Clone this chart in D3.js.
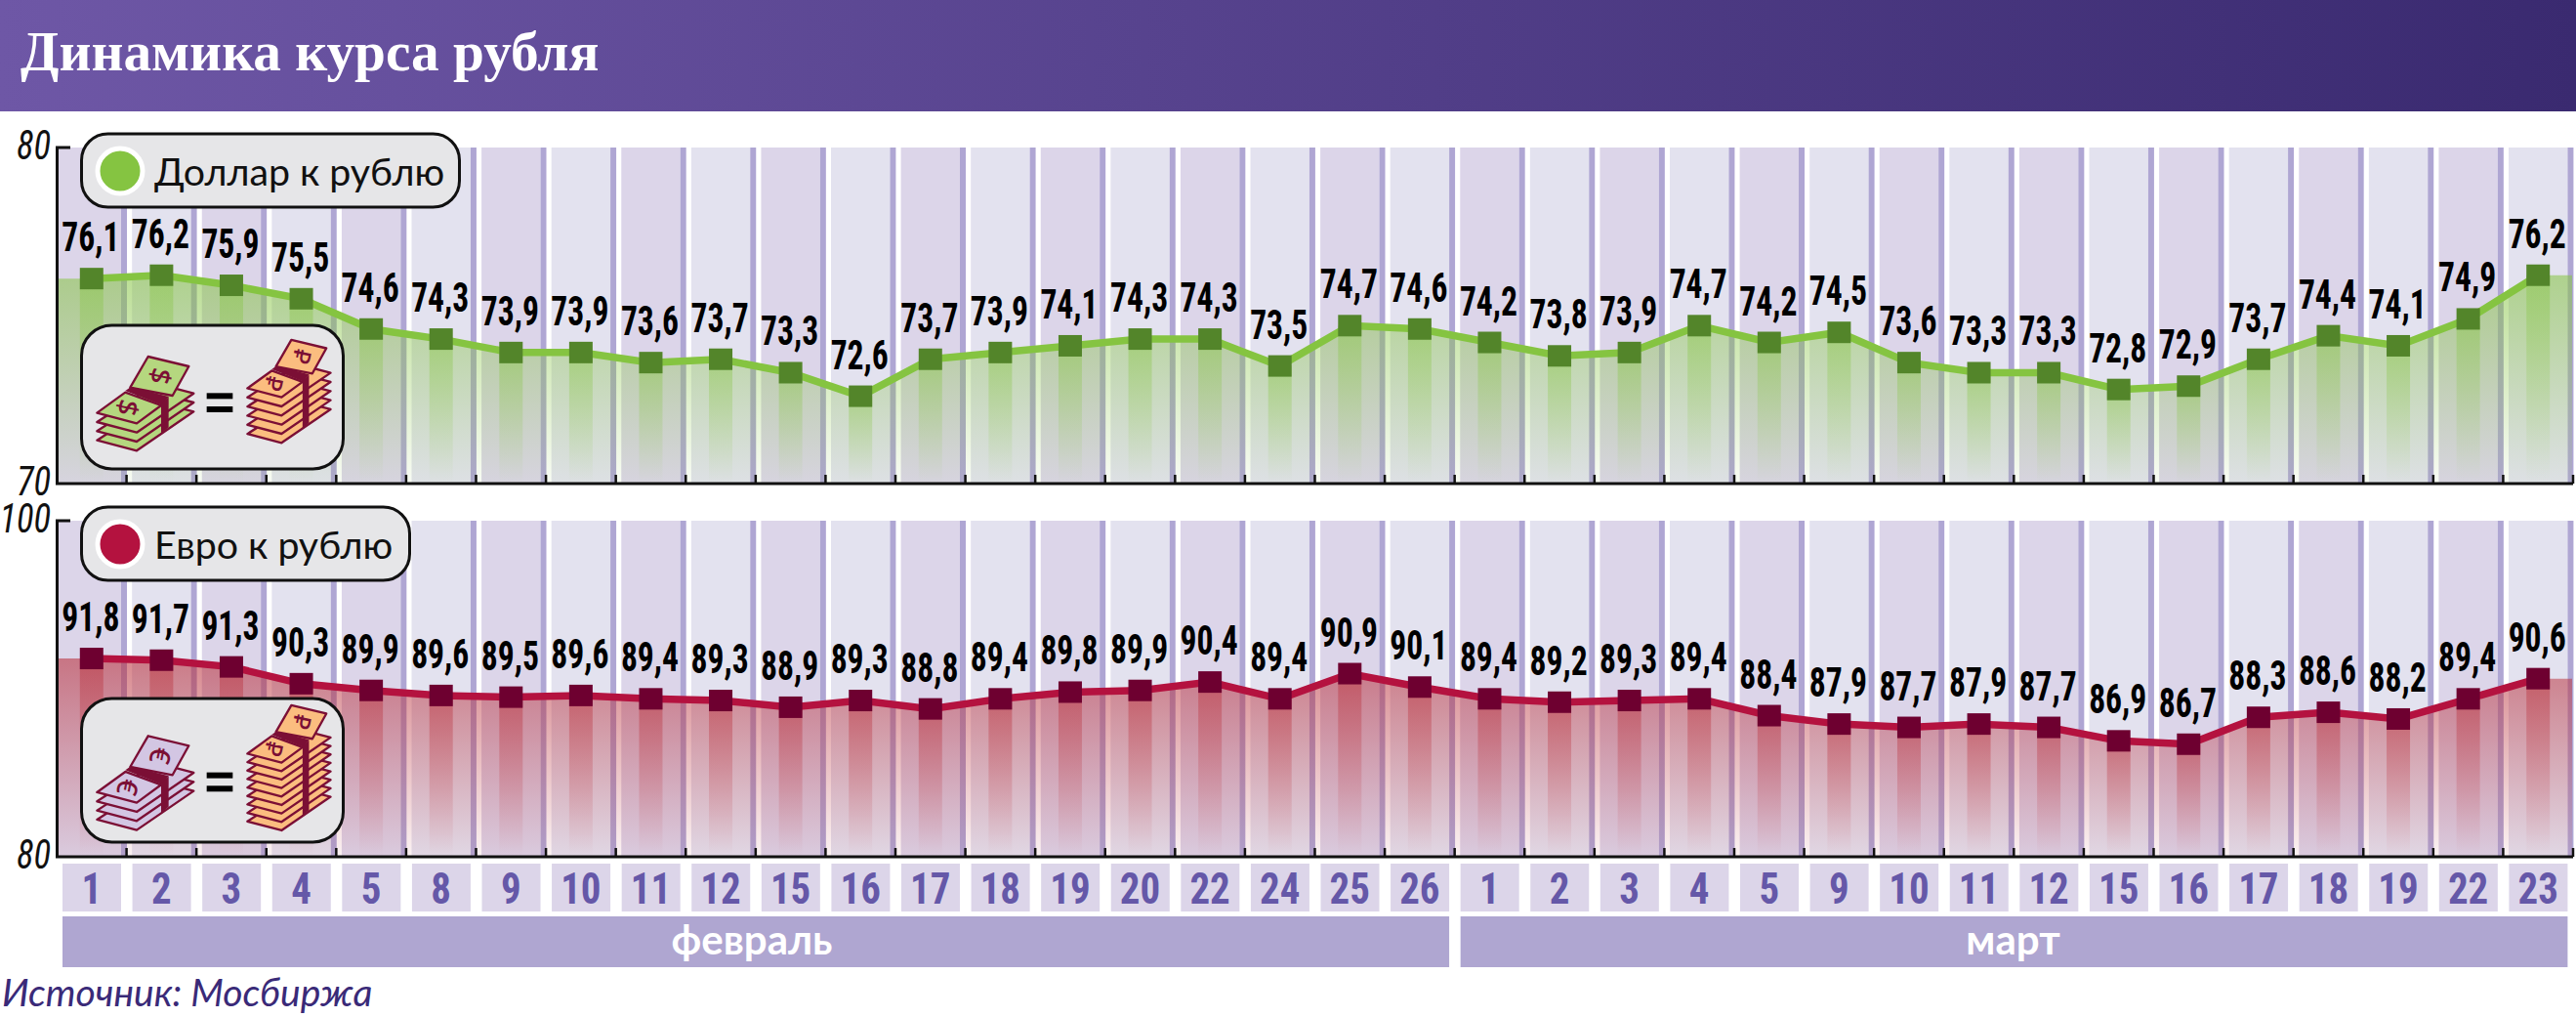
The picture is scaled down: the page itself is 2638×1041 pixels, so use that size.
<!DOCTYPE html>
<html><head><meta charset="utf-8">
<script src="https://cdn.jsdelivr.net/npm/d3@7/dist/d3.min.js"></script>
<style>html,body{margin:0;padding:0;background:#fff;overflow:hidden}svg{display:block}</style>
</head><body><svg id="c" width="2638" height="1041"></svg>
<script>
const days=[1,2,3,4,5,8,9,10,11,12,15,16,17,18,19,20,22,24,25,26,1,2,3,4,5,9,10,11,12,15,16,17,18,19,22,23];
const months=[{name:"февраль",from:0,to:19},{name:"март",from:20,to:35}];
const usd=[76.1,76.2,75.9,75.5,74.6,74.3,73.9,73.9,73.6,73.7,73.3,72.6,73.7,73.9,74.1,74.3,74.3,73.5,74.7,74.6,74.2,73.8,73.9,74.7,74.2,74.5,73.6,73.3,73.3,72.8,72.9,73.7,74.4,74.1,74.9,76.2];
const eur=[91.8,91.7,91.3,90.3,89.9,89.6,89.5,89.6,89.4,89.3,88.9,89.3,88.8,89.4,89.8,89.9,90.4,89.4,90.9,90.1,89.4,89.2,89.3,89.4,88.4,87.9,87.7,87.9,87.7,86.9,86.7,88.3,88.6,88.2,89.4,90.6];

const NARROW="'Roboto Condensed','Liberation Sans Narrow',Roboto,sans-serif";
const svg=d3.select("#c");
const defs=svg.append("defs");
const W=2638;
function lin(id,stops,attrs){const g=defs.append("linearGradient").attr("id",id);
  Object.entries(attrs).forEach(([k,v])=>g.attr(k,v));
  stops.forEach(s=>g.append("stop").attr("offset",s[0]).attr("stop-color",s[1]).attr("stop-opacity",s[2]===undefined?1:s[2]));}
lin("hdr",[[0,"#6E57A6"],[1,"#3A2A70"]],{x1:0,x2:1,y1:0,y2:0});
svg.append("rect").attr("width",W).attr("height",114).attr("fill","url(#hdr)");
svg.append("text").attr("x",21).attr("y",72).attr("fill","#fff").attr("font-family","'Liberation Serif',serif")
  .attr("font-weight",700).attr("font-size",57.3).text("Динамика курса рубля");

const x=d3.scaleBand().domain(d3.range(days.length)).range([58,2635]).padding(0);
const step=x.step();
const cx=i=>x(i)+step/2;

function nt(g,tx,ty,str,size,sx,anchor,extra){
  const t=g.append("text").attr("transform",`translate(${tx},${ty}) scale(${sx},1)`).attr("text-anchor",anchor)
    .attr("font-family",NARROW).attr("font-size",size).text(str);
  Object.entries(extra).forEach(([k,v])=>t.attr(k,v));
  return t;
}

function panel(o){
  const y=d3.scaleLinear().domain(o.domain).range([o.bottom,o.top]);
  const g=svg.append("g");
  lin(o.id+"a",[[0,o.fill,.56],[1,o.fill,.06]],{x1:0,x2:0,y1:0,y2:1});
  lin(o.id+"s",[[0,o.fill,.42],[1,o.fill,0]],{x1:0,x2:0,y1:0,y2:1});
  days.forEach((d,i)=>{
    const left=i===0?60:x(i)+5.6;
    g.append("rect").attr("x",left).attr("y",o.top).attr("width",x(i)+66-left).attr("height",o.bottom-o.top)
      .attr("fill",i%2?"#E3E2EF":"#DCD5E9");
    g.append("rect").attr("x",x(i)+66).attr("y",o.top).attr("width",6).attr("height",o.bottom-o.top).attr("fill","#AFA6D3");
  });
  const vals=o.values;
  const pts=[[x.range()[0]+2,vals[0]],...vals.map((v,i)=>[cx(i),v]),[x.range()[1]-1,vals[vals.length-1]]];
  const area=d3.area().x(d=>d[0]).y0(o.bottom).y1(d=>y(d[1]));
  g.append("path").attr("d",area(pts)).attr("fill",`url(#${o.id}a)`);
  vals.forEach((v,i)=>{
    g.append("rect").attr("x",cx(i)-12).attr("y",y(v)).attr("width",24).attr("height",o.bottom-y(v)).attr("fill",`url(#${o.id}s)`);
  });
  const line=d3.line().x((d,i)=>cx(i)).y(d=>y(d));
  g.append("path").attr("d",line(vals)).attr("fill","none").attr("stroke",o.color).attr("stroke-width",7.5);
  vals.forEach((v,i)=>{
    g.append("rect").attr("x",cx(i)-12).attr("y",y(v)-11).attr("width",24).attr("height",22).attr("fill",o.marker);
  });
  const ax=g.append("g").attr("fill","none").attr("stroke","#111");
  ax.append("path").attr("stroke-width",3).attr("d",`M72,${o.top}H58.5V${o.bottom}H2635`);
  days.forEach((d,i)=>{ax.append("path").attr("stroke-width",2.5).attr("d",`M${x(i)+step},${o.bottom}v-9`);});
  o.domain.forEach(v=>{
    nt(g,52,y(v)+12,v,43,.85,"end",{"font-style":"italic","fill":"#111"});
  });
  vals.forEach((v,i)=>{
    nt(g,cx(i)-1,y(v)-28,String(v).replace(".",","),42,.8,"middle",{"font-weight":700,"fill":"#000"});
  });
  g.append("rect").attr("x",83.5).attr("y",o.top-14).attr("width",o.legW).attr("height",75).attr("rx",27)
    .attr("fill","#E6E6E8").attr("stroke","#111").attr("stroke-width",3);
  g.append("circle").attr("cx",123).attr("cy",o.top+24).attr("r",23).attr("fill",o.dot).attr("stroke","#fff").attr("stroke-width",5);
  g.append("text").attr("x",158).attr("y",o.top+39).attr("font-family","Lato,sans-serif").attr("font-size",o.legFont)
    .attr("fill","#111").text(o.legend);
  g.append("rect").attr("x",83.5).attr("y",o.boxY).attr("width",268).attr("height",147).attr("rx",31)
    .attr("fill","#E6E6E8").attr("stroke","#111").attr("stroke-width",3);
  const ig=g.append("g").attr("transform",`translate(0,${o.iconDy}) scale(${1/3})`);
  stack(ig,420,1300,1,3,28,o.note,o.sign,o.noteInk);
  stack(ig,865,o.rubY,.86,o.rubN,o.rubD,"#FBBD7F","₽","#7B0F35");
  ig.append("rect").attr("x",635).attr("y",1207).attr("width",80).attr("height",18).attr("fill","#000");
  ig.append("rect").attr("x",635).attr("y",1248).attr("width",80).attr("height",18).attr("fill","#000");
}
function stack(p,ax,ay,s,n,d,fill,sign,ink){
  const g=p.append("g").attr("transform",`translate(${ax},${ay}) scale(${s})`);
  const sw=7/s;
  const poly=pts=>g.append("polygon").attr("points",pts.join(" ")).attr("fill",fill).attr("stroke",ink).attr("stroke-width",sw).attr("stroke-linejoin","round");
  for(let i=n;i>=1;i--){
    const t=i*d/s;
    poly([[-122,-32+t],[0,t],[175,-120+t],[60,-150+t]]);
  }
  poly([[35,-205],[160,-175],[110,-85],[-20,-110]]);
  poly([[-122,-32],[0,0],[75,-55],[-35,-95]]);
  g.append("polygon").attr("points","-35,-100 -18,-112 98,-82 78,-56").attr("fill",ink);
  g.append("polygon").attr("points",`75,-58 98,-82 98,${n*d/s-72} 75,${n*d/s-52}`).attr("fill",ink);
  const lab=(tx,ty)=>g.append("text").attr("transform",`translate(${tx},${ty}) rotate(102)`).attr("text-anchor","middle").attr("dy",".35em")
    .attr("font-family","'Noto Sans','DejaVu Sans',sans-serif").attr("font-weight",500).attr("font-size",86).attr("fill",ink).text(sign);
  lab(72,-145);lab(-28,-48);
}
panel({id:"u",domain:[70,80],top:151,bottom:495,values:usd,color:"#85C441",fill:"#85C441",marker:"#53852A",dot:"#85C441",
  legend:"Доллар к рублю",legW:387,legFont:39.3,boxY:333,iconDy:0,note:"#B5D77F",noteInk:"#7B0F35",sign:"$",rubY:1220,rubN:5,rubD:28});
panel({id:"e",domain:[80,100],top:533,bottom:877,values:eur,color:"#B4123F",fill:"#B82A35",marker:"#6E0030",dot:"#B4123F",
  legend:"Евро к рублю",legW:336,legFont:39.3,boxY:715,iconDy:388.3,note:"#D3C6E3",noteInk:"#7B0F35",sign:"€",rubY:1177,rubN:8,rubD:26});
days.forEach((d,i)=>{
  svg.append("rect").attr("x",x(i)+6).attr("y",884).attr("width",60).attr("height",49).attr("fill","#DCD5E9");
  nt(svg,cx(i),925,d,44,.93,"middle",{"font-weight":700,"fill":"#6558A8"});
});
months.forEach(m=>{
  const l=x(m.from)+6,r=x(m.to)+66;
  svg.append("rect").attr("x",l).attr("y",938).attr("width",r-l).attr("height",52).attr("fill","#AFA6D1");
  svg.append("text").attr("x",(l+r)/2-(m.from===0?4:1)).attr("y",977).attr("text-anchor","middle").attr("font-family","Lato,sans-serif").attr("font-weight",700)
    .attr("font-size",42).attr("fill","#fff").text(m.name);
});
svg.append("text").attr("x",2).attr("y",1030).attr("font-family","Lato,sans-serif").attr("font-style","italic").attr("font-size",39)
  .attr("fill","#3A2A78").text("Источник: Мосбиржа");
</script></body></html>
